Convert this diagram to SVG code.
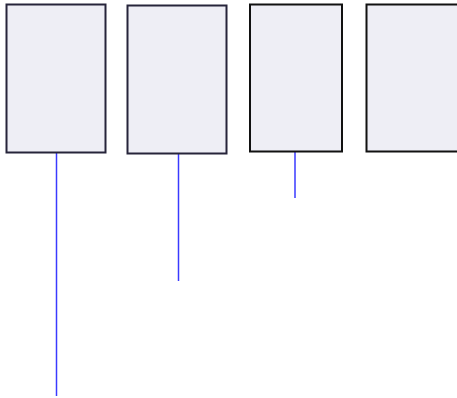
<svg xmlns="http://www.w3.org/2000/svg" width="457" height="398" viewBox="0 0 457 398">
  <style>
    .box { fill: #eeeef5; stroke-width: 2; }
    .navy { stroke: #26243a; }
    .dark { stroke: #111111; }
    .wire { stroke: #3a3aff; stroke-width: 1.5; fill: none; }
  </style>
  <rect width="457" height="398" fill="#ffffff"/>
  <g id="connectors">
    <line class="wire" x1="56.5" y1="153" x2="56.5" y2="396"/>
    <line class="wire" x1="178.5" y1="154" x2="178.5" y2="281"/>
    <line class="wire" x1="295" y1="152" x2="295" y2="198"/>
  </g>
  <g id="node1"><rect class="box navy" x="6.5" y="4.5" width="99" height="148"/></g>
  <g id="node2"><rect class="box navy" x="127.5" y="5.5" width="99" height="148"/></g>
  <g id="node3"><rect class="box dark" x="250" y="4.5" width="92" height="147"/></g>
  <g id="node4"><rect class="box dark" x="366.5" y="4.5" width="100" height="147"/></g>
</svg>
